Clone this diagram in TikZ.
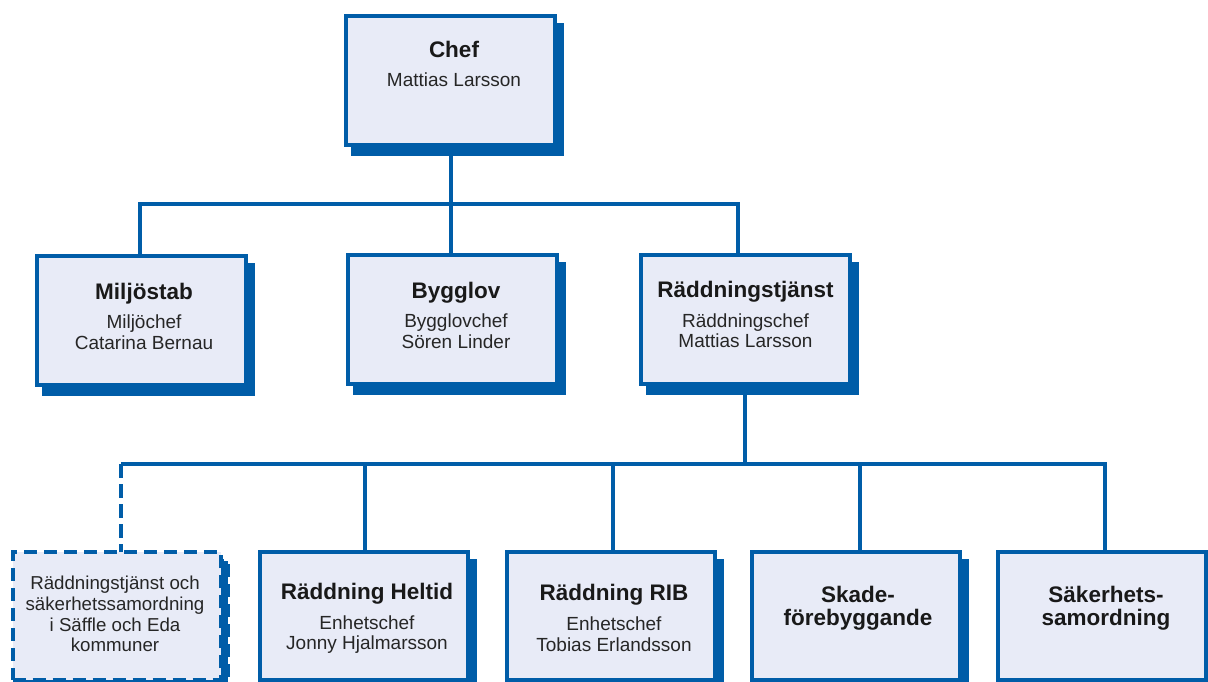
\documentclass[tikz,border=0pt]{standalone}
\usepackage{fontspec}
\setmainfont{Liberation Sans}
\usetikzlibrary{shadows}
\definecolor{orgblue}{RGB}{0,93,168}
\definecolor{orgfill}{RGB}{232,235,247}
\begin{document}
\begin{tikzpicture}[x=1pt,y=-1pt,
  orgbox/.style={draw=orgblue, line width=4pt, fill=orgfill, inner sep=0pt, outer sep=0pt,
    minimum width=209pt, minimum height=129pt,
    general shadow={draw=orgblue, fill=orgblue, line width=4pt, shadow xshift=7pt, shadow yshift=-9pt}},
  lowbox/.style={orgbox, minimum width=208pt, minimum height=128pt},
  dashbox/.style={lowbox, dash pattern=on 13pt off 7pt},
  conn/.style={draw=orgblue, line width=3.5pt, line join=miter},
  dconn/.style={conn, dash pattern=on 14pt off 6pt},
  ttl/.style={anchor=base, inner sep=0pt, font=\fontsize{22.5}{27}\selectfont\bfseries, text=black!90},
  sub/.style={anchor=base, inner sep=0pt, font=\fontsize{19}{22}\selectfont, text=black!85},
  subs/.style={anchor=base, inner sep=0pt, font=\fontsize{18.7}{22}\selectfont, text=black!85}]
\clip (0,0) rectangle (1208,682);
\fill[white] (0,0) rectangle (1208,682);

% junction coordinates
\coordinate (dMil) at (140,204);
\coordinate (dByg) at (451,204);
\coordinate (dRad) at (738,204);
\coordinate (eDash) at (121,464);
\coordinate (eHel) at (365,464);
\coordinate (eRad) at (745,464);
\coordinate (eRIB) at (613,464);
\coordinate (eSka) at (860,464);
\coordinate (eSak) at (1105,464);

% boxes
\node[orgbox] (chef) at (450.5,80.5) {};
\node[orgbox] (miljo) at (141,320.5) {};
\node[orgbox] (bygg) at (452.5,319.5) {};
\node[orgbox] (rad) at (745,319) {};
\node[dashbox] (samv) at (116.5,616) {};
\node[lowbox] (helt) at (363.5,616) {};
\node[lowbox] (rib) at (610.5,616) {};
\node[lowbox] (skade) at (856,616) {};
\node[lowbox] (sak) at (1101.5,616) {};

% connectors
\draw[conn] (chef.south -| dByg) -- (dByg);
\draw[conn] (dMil |- miljo.north) -- (dMil) -- (dRad) -- (dRad |- rad.north);
\draw[conn] (dByg) -- (dByg |- bygg.north);
\draw[conn] (rad.south -| eRad) -- (eRad);
\draw[conn] (eDash) -- (eSak) -- (eSak |- sak.north);
\draw[conn] (eHel) -- (eHel |- helt.north);
\draw[conn] (eRIB) -- (eRIB |- rib.north);
\draw[conn] (eSka) -- (eSka |- skade.north);
\draw[dconn] (eDash) -- (eDash |- samv.north);

% texts
\node[ttl] (chefT) at (454,58) {Chef};
\node[sub] (chefS) at (454,87) {Mattias Larsson};

\node[ttl] (miljoT) at (144,299) {Miljöstab};
\node[sub] (miljoS1) at (144,328) {Miljöchef};
\node[sub] (miljoS2) at (144,349) {Catarina Bernau};

\node[ttl] (byggT) at (456,298) {Bygglov};
\node[sub] (byggS1) at (456,327) {Bygglovchef};
\node[sub] (byggS2) at (456,348) {Sören Linder};

\node[ttl] (radT) at (745.5,297) {Räddningstjänst};
\node[sub] (radS1) at (745.5,327) {Räddningschef};
\node[sub] (radS2) at (745.5,347) {Mattias Larsson};

\node[subs] (samvL1) at (115,589) {Räddningstjänst och};
\node[subs] (samvL2) at (115,610) {säkerhetssamordning};
\node[subs] (samvL3) at (115,631) {i Säffle och Eda};
\node[subs] (samvL4) at (115,651) {kommuner};

\node[ttl] (heltT) at (367,599) {Räddning Heltid};
\node[sub] (heltS1) at (367,629) {Enhetschef};
\node[sub] (heltS2) at (367,649) {Jonny Hjalmarsson};

\node[ttl] (ribT) at (614,600) {Räddning RIB};
\node[sub] (ribS1) at (614,630) {Enhetschef};
\node[sub] (ribS2) at (614,651) {Tobias Erlandsson};

\node[ttl] (skadeT1) at (858,602) {Skade-};
\node[ttl] (skadeT2) at (858,625) {förebyggande};

\node[ttl] (sakT1) at (1106,602) {Säkerhets-};
\node[ttl] (sakT2) at (1106,625) {samordning};
\end{tikzpicture}
\end{document}
